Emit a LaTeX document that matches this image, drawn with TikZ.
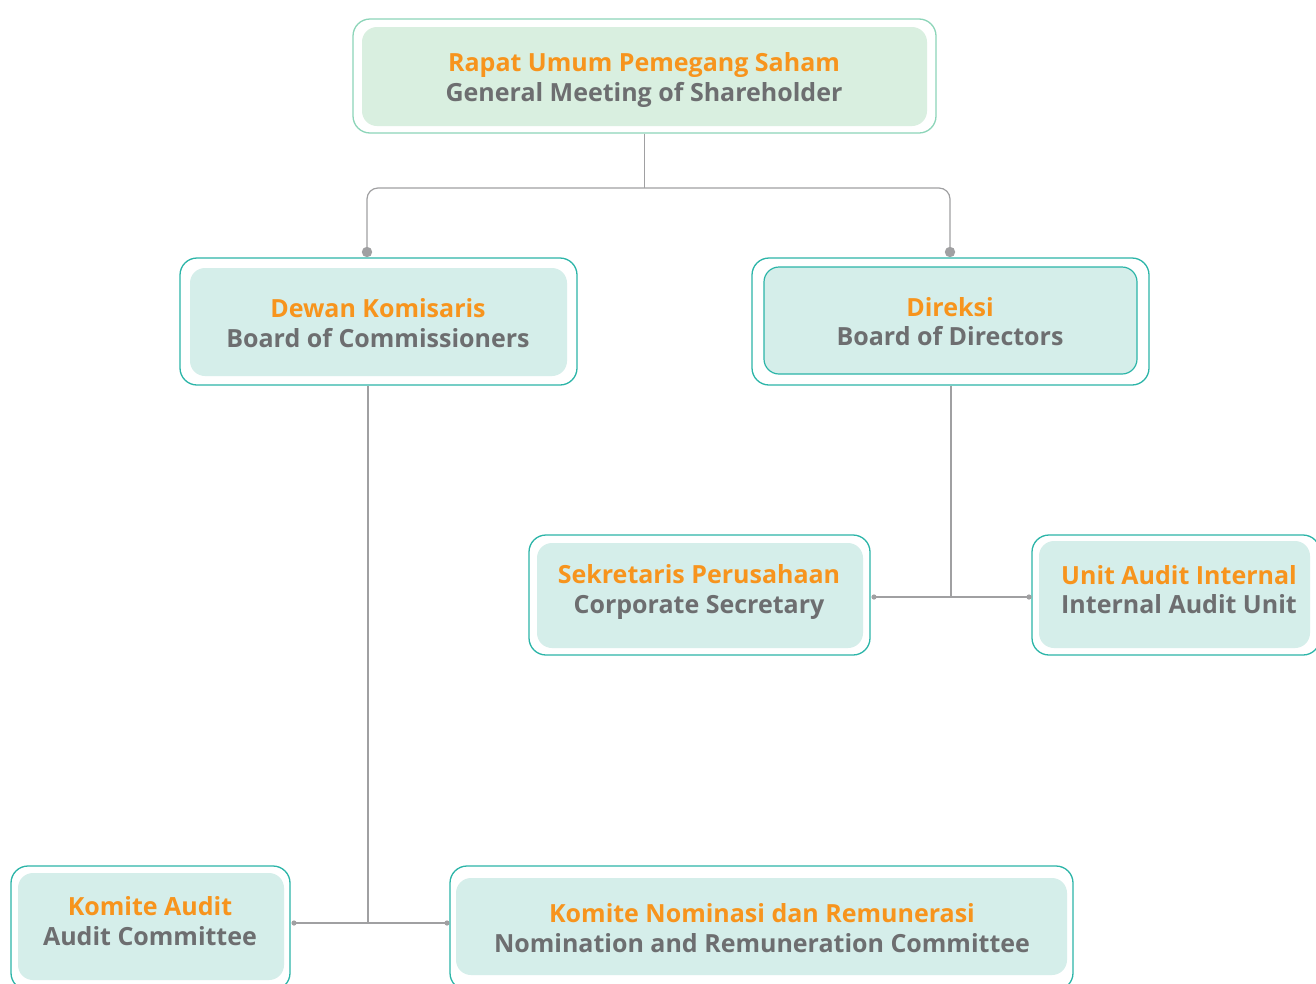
\documentclass[tikz,border=0pt]{standalone}
\usepackage{fontspec}
\setmainfont{Open Sans}
\definecolor{tealc}{HTML}{2CB5A8}
\definecolor{greenline}{HTML}{8DD5B9}
\definecolor{greenfill}{HTML}{D9EFE0}
\definecolor{tealfill}{HTML}{D5EEEA}
\definecolor{orangec}{HTML}{F7941D}
\definecolor{greyt}{HTML}{6D6E70}
\definecolor{connc}{HTML}{A0A0A2}
\newcommand\boxtext[2]{{\color{orangec}#1}\\{\color{greyt}#2}}
\begin{document}
\begin{tikzpicture}[x=1pt,y=-1pt,
  outerbox/.style={draw=tealc, line width=1.3pt, rounded corners=17pt, fill=white, inner sep=0pt},
  innerbox/.style={fill=tealfill, rounded corners=15pt, inner sep=0pt},
  label/.style={align=center, inner sep=0pt, font=\bfseries\fontsize{25}{29.5}\selectfont},
  conn/.style={draw=connc, line width=1.2pt},
  bigdot/.style={fill=connc},
]
\clip (0,0) rectangle (1316,983);
\fill[white] (0,0) rectangle (1316,983);

% RUPS
\node[outerbox, draw=greenline, minimum width=583pt, minimum height=114pt] (rups) at (644.5,76) {};
\node[innerbox, fill=greenfill, minimum width=565pt, minimum height=99pt] (rupsbg) at (644.5,76.5) {};
\node[label] (rupst) at (644,80) {\boxtext{Rapat Umum Pemegang Saham}{General Meeting of Shareholder}};

% Dewan Komisaris
\node[outerbox, minimum width=397pt, minimum height=127pt] (kom) at (378.5,321.5) {};
\node[innerbox, minimum width=377pt, minimum height=108pt] (kombg) at (378.5,322) {};
\node[label] (komt) at (378,323) {\boxtext{Dewan Komisaris}{Board of Commissioners}};

% Direksi
\node[outerbox, minimum width=397pt, minimum height=127pt] (dir) at (950.5,321.5) {};
\node[innerbox, draw=tealc, line width=1.2pt, minimum width=373pt, minimum height=107pt] (dirbg) at (950.5,320.5) {};
\node[label] (dirt) at (950,321.5) {\boxtext{Direksi}{Board of Directors}};

% Sekretaris Perusahaan
\node[outerbox, minimum width=341pt, minimum height=120pt] (sek) at (699.5,595) {};
\node[innerbox, minimum width=326pt, minimum height=105pt] (sekbg) at (700,595.5) {};
\node[label] (sekt) at (699,592) {\boxtext{Sekretaris Perusahaan}{Corporate Secretary}};

% Unit Audit Internal
\node[outerbox, minimum width=288pt, minimum height=120pt] (uai) at (1176,595) {};
\node[innerbox, minimum width=271pt, minimum height=107pt] (uaibg) at (1174.5,594.5) {};
\node[label] (uait) at (1179,589.5) {\boxtext{Unit Audit Internal}{Internal Audit Unit}};

% Komite Audit
\node[outerbox, minimum width=279pt, minimum height=124pt] (ka) at (150.5,928) {};
\node[innerbox, minimum width=266pt, minimum height=107pt] (kabg) at (151,926.5) {};
\node[label] (kat) at (150,921) {\boxtext{Komite Audit}{Audit Committee}};

% Komite Nominasi dan Remunerasi
\node[outerbox, minimum width=623pt, minimum height=124pt] (kn) at (761.5,928) {};
\node[innerbox, minimum width=611pt, minimum height=97pt] (knbg) at (761.5,926.5) {};
\node[label] (knt) at (762,928) {\boxtext{Komite Nominasi dan Remunerasi}{Nomination and Remuneration Committee}};

% connectors top
\coordinate (j1) at (rups.south |- 0,188);
\coordinate (dk) at (367,252);
\coordinate (dd) at (950,252);
\draw[conn] (rups.south) -- (j1);
\draw[conn, rounded corners=11pt] (dk) |- (j1) -| (dd);
\fill[bigdot] (dk) circle (5.2);
\fill[bigdot] (dd) circle (5.2);

% Komisaris to committees
\coordinate (a1) at (294,923);
\coordinate (a2) at (447,923);
\draw[conn] (kom.south -| 368,0) -- (368,923);
\draw[conn] (a1) -- (a2);
\fill[bigdot] (a1) circle (2.6);
\fill[bigdot] (a2) circle (2.6);

% Direksi to units
\coordinate (b1) at (874,597);
\coordinate (b2) at (1029,597);
\draw[conn] (dir.south -| 951,0) -- (951,597);
\draw[conn] (b1) -- (b2);
\fill[bigdot] (b1) circle (2.6);
\fill[bigdot] (b2) circle (2.6);
\end{tikzpicture}
\end{document}
